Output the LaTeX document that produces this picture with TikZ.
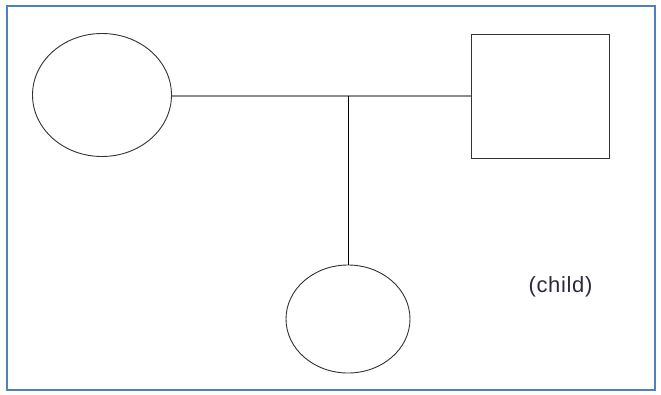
\documentclass[tikz,border=0pt]{standalone}
\usepackage{fontspec}
\setmainfont{Liberation Sans}
\newfontfamily\labelfont[LetterSpace=3]{Liberation Sans}
\usetikzlibrary{shapes.geometric}
\definecolor{frameblue}{HTML}{4F81BD}
\definecolor{childtext}{HTML}{2B2B3B}
\begin{document}
\begin{tikzpicture}[x=1pt,y=-1pt,
  person/.style={draw=black!80,line width=0.9pt,fill=white,inner sep=0pt},
  femalebox/.style={person,ellipse},
  malebox/.style={person,rectangle},
  marriage/.style={draw=black!45,line width=1.4pt},
  descent/.style={draw=black,line width=0.9pt}]
\useasboundingbox (0,0) rectangle (661,394);
\draw[frameblue,line width=2pt] (7,6) rectangle (655,390);
\node[femalebox,minimum width=139,minimum height=123] (mother) at (102,95) {};
\node[malebox,minimum width=138,minimum height=124] (father) at (540,96) {};
\node[femalebox,minimum width=124,minimum height=108] (child) at (348,319) {};
\coordinate (mid) at (348,96);
\draw[marriage] (mid -| mother.east) -- (mid -| father.west);
\draw[descent] (mid) -- (child.north);
\node[text=childtext,font=\labelfont\fontsize{22}{25}\selectfont,inner sep=0pt] (label) at (560.5,287) {(child)};
\end{tikzpicture}
\end{document}
